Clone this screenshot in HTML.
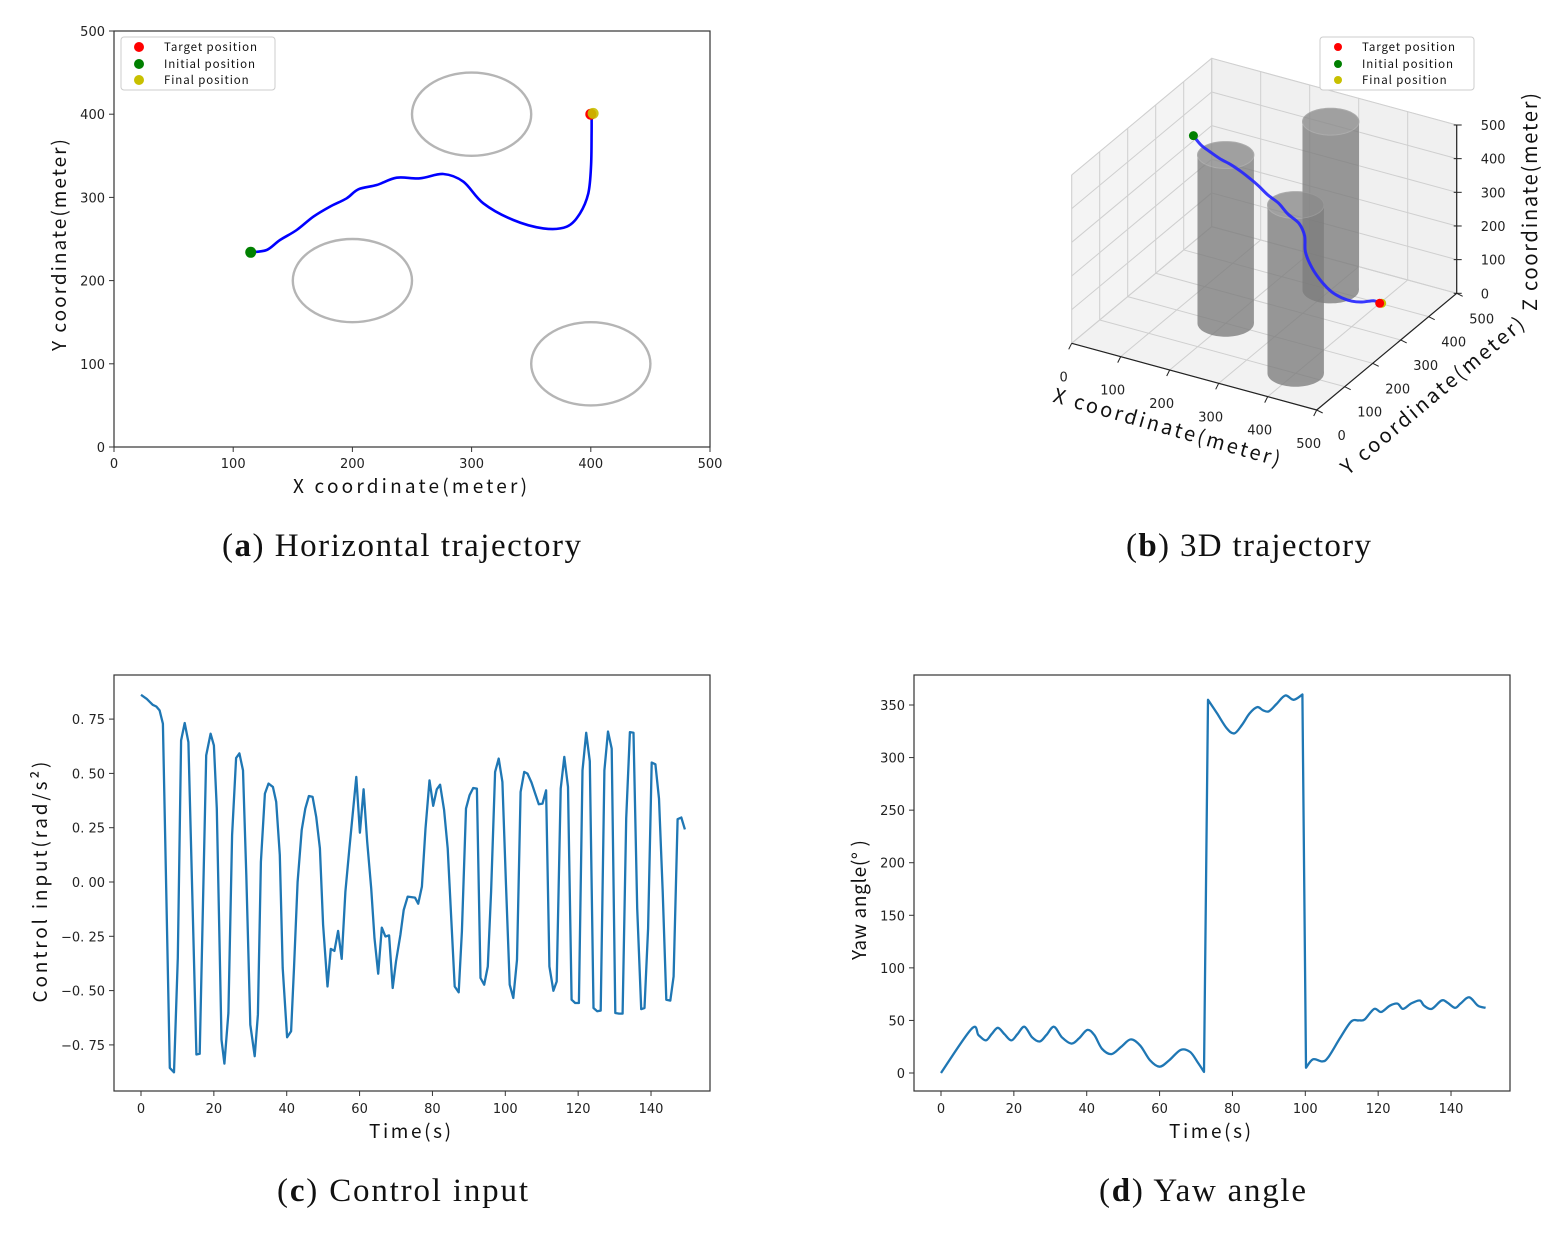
<!DOCTYPE html>
<html><head><meta charset="utf-8">
<style>
html,body{margin:0;padding:0;background:#fff;}
svg{display:block;}
.tick{font-family:"DejaVu Sans","Liberation Sans",sans-serif;font-size:13px;fill:#222;}
.cjk{font-family:"WenQuanYi Zen Hei","Noto Sans CJK SC",sans-serif;fill:#111;}
.cap{font-family:"Liberation Serif",serif;font-size:33px;fill:#111;}
</style></head>
<body>
<svg id="root" width="1560" height="1234" viewBox="0 0 1560 1234" xmlns="http://www.w3.org/2000/svg">
<text class="cap" x="222" y="556" textLength="359">(<tspan font-weight="bold">a</tspan>)  Horizontal trajectory</text>
<text class="cap" x="1126" y="556" textLength="245">(<tspan font-weight="bold">b</tspan>)  3D trajectory</text>
<text class="cap" x="277" y="1201" textLength="251">(<tspan font-weight="bold">c</tspan>)  Control input</text>
<text class="cap" x="1099" y="1201" textLength="207">(<tspan font-weight="bold">d</tspan>)  Yaw angle</text>

<g id="pa"></g>
<g id="pb"></g>
<g id="pc"></g>
<g id="pd"></g>

<text class="cjk" x="410" y="493" font-size="19" text-anchor="middle" textLength="234">X coordinate(meter)</text>
<text class="cjk" transform="translate(66,245) rotate(-90)" font-size="19" text-anchor="middle" textLength="212">Y coordinate(meter)</text>
<text class="cjk" x="410" y="1138" font-size="19" text-anchor="middle" textLength="82">Time(s)</text>
<text class="cjk" transform="translate(47,882) rotate(-90)" font-size="19" text-anchor="middle" textLength="241">Control input(rad/s²)</text>
<text class="cjk" x="1210" y="1138" font-size="19" text-anchor="middle" textLength="82">Time(s)</text>
<text class="cjk" transform="translate(866,900) rotate(-90)" font-size="19" text-anchor="middle" textLength="120">Yaw angle(° )</text>
<text class="cjk" transform="translate(1165,434) rotate(16)" font-size="20" text-anchor="middle" textLength="235">X coordinate(meter)</text>
<text class="cjk" transform="translate(1437,401) rotate(-40)" font-size="20" text-anchor="middle" textLength="232">Y coordinate(meter)</text>
<text class="cjk" transform="translate(1537,202) rotate(-90)" font-size="20" text-anchor="middle" textLength="218">Z coordinate(meter)</text>
</svg>

<script>
const pathX = [114.7,128.1,139.3,153.3,167.2,181.2,195.2,205,220.4,237.2,256.7,276.3,293.1,309.8,335,360.2,379.8,390.9,397.9,400.2,400.7,400.7];
const pathY = [234,236.8,248.8,260.8,276.8,288.9,298.9,309.7,314.9,323.7,322.9,328.1,318.9,292.9,272.8,262.8,264.8,280.8,304.8,336.9,377,401];
const obsX = [300,200,400];
const obsY = [400,200,100];
const obsR = [50,50,50];
const xyTicks = [0,100,200,300,400,500];
const zTicks = [0,100,200,300,400,500];

const ctrlT = [0,1.6,3.2,4.2,5.1,6,7.9,9.05,10.1,11,12,13,15.2,16.1,16.9,17.9,19.1,20,20.8,22.1,22.9,24,25,26.1,27,28,28.9,30,31.2,32.1,32.9,34,35,36.2,37.1,38.1,38.9,40.1,41.2,42,43,44.1,45.1,46.1,47.1,48.1,49.1,50,51.2,52.1,53.1,54.1,55.1,56.1,57.2,59.1,60.1,61.1,62.1,63.2,64.1,65.1,66.1,67.1,68.1,69.1,70,71.2,72.1,73.2,75.2,76.1,77.1,78.1,79.2,80.2,81.2,82.1,83.2,84.2,85.2,86.1,87.2,88.1,89.2,90.2,91.2,92.2,93.2,94.2,95.2,96.1,97.2,98.2,99.2,100.2,101.2,102.2,103.2,104.2,105.2,106.1,107.2,108.2,109.2,110.2,111.2,112.1,113.2,114.1,115.2,116.2,117.2,118.2,119.2,120.2,121.2,122.2,123.2,124.2,125.2,126.2,127.2,128.2,129.2,130.2,131.2,132.2,133.2,134.2,135.2,136.2,137.3,138.2,139.2,140.2,141.2,142.2,143.2,144.2,145.3,146.2,147.3,148.3,149.3];
const ctrlU = [0.862,0.843,0.816,0.808,0.79,0.729,-0.856,-0.876,-0.35,0.652,0.732,0.644,-0.794,-0.791,-0.18,0.583,0.683,0.629,0.338,-0.726,-0.836,-0.603,0.216,0.571,0.592,0.514,0.032,-0.657,-0.802,-0.611,0.093,0.407,0.453,0.438,0.369,0.124,-0.396,-0.715,-0.687,-0.396,0.0,0.239,0.338,0.396,0.392,0.3,0.155,-0.197,-0.481,-0.308,-0.317,-0.225,-0.354,-0.044,0.155,0.484,0.227,0.427,0.185,-0.029,-0.259,-0.422,-0.21,-0.251,-0.246,-0.488,-0.366,-0.243,-0.129,-0.067,-0.072,-0.1,-0.021,0.246,0.468,0.351,0.427,0.448,0.331,0.155,-0.182,-0.481,-0.508,-0.228,0.338,0.4,0.433,0.43,-0.442,-0.473,-0.389,-0.044,0.507,0.568,0.461,-0.014,-0.473,-0.534,-0.358,0.415,0.507,0.499,0.458,0.407,0.358,0.361,0.422,-0.389,-0.501,-0.458,0.43,0.576,0.438,-0.542,-0.557,-0.557,0.514,0.687,0.556,-0.58,-0.595,-0.592,0.514,0.693,0.614,-0.603,-0.606,-0.606,0.292,0.69,0.687,-0.121,-0.585,-0.58,-0.213,0.55,0.542,0.384,-0.044,-0.542,-0.546,-0.435,0.289,0.297,0.242];
const ctrlYTicks = [0.75,0.5,0.25,0,-0.25,-0.5,-0.75];
const ctrlYLabels = ["0. 75","0. 50","0. 25","0. 00","\u22120. 25","\u22120. 50","\u22120. 75"];

const yawT = [0,8.4,10.3,12.3,13.9,15.6,17.4,19.3,21,22.9,25,27.1,28.9,31,33.2,35.8,37.9,40.2,42.1,44.2,46.8,49.5,52.1,54.7,57.4,60,62.6,65.8,68.4,70.5,72.2,73.3,75.8,78.4,80.5,82.6,84.7,86.8,88.4,90,92.1,94.5,96.8,99.2,100.2,102.1,104.7,106.3,109.5,112.6,114.7,116.3,118.9,120.8,123.2,125.3,126.8,129,131.4,132.6,134.7,137.4,139,141.1,142.6,145,147.4,149.5];
const yawV = [0,42,36,31,37,43,37,31,37,44,34,30,36,44,34,28,33,41,36,23,18,25,32,26,12,6,12,22,20,10,1,355,342,328,323,331,342,348,345,344,351,359,355,360,5,13,11,15,33,49,50,51,61,58,64,66,61,66,69,64,61,69,67,62,66,72,64,62];
const yawYTicks = [0,50,100,150,200,250,300,350];
const timeTicks = [0,20,40,60,80,100,120,140];

const NS = "http://www.w3.org/2000/svg";
function mk(tag, attrs, parent){
  const e = document.createElementNS(NS, tag);
  for (const k in attrs) e.setAttribute(k, attrs[k]);
  parent.appendChild(e);
  return e;
}
function txt(parent, x, y, s, cls, anchor, extra){
  const t = mk('text', Object.assign({x:x, y:y, 'class':cls, 'text-anchor':anchor||'middle'}, extra||{}), parent);
  t.textContent = s;
  return t;
}
// Catmull-Rom smooth path; breaks (no smoothing) where jump flagged
function smooth(p, brk){
  let d = 'M'+p[0][0].toFixed(1)+' '+p[0][1].toFixed(1);
  for(let i=0;i<p.length-1;i++){
    if(brk && brk(i)){ d+=' L'+p[i+1][0].toFixed(1)+' '+p[i+1][1].toFixed(1); continue; }
    const p0=(i>0 && !(brk&&brk(i-1)))?p[i-1]:p[i], p1=p[i], p2=p[i+1], p3=(i+2<p.length && !(brk&&brk(i+1)))?p[i+2]:p2;
    const c1=[p1[0]+(p2[0]-p0[0])/6, p1[1]+(p2[1]-p0[1])/6];
    const c2=[p2[0]-(p3[0]-p1[0])/6, p2[1]-(p3[1]-p1[1])/6];
    d+=' C'+c1[0].toFixed(1)+' '+c1[1].toFixed(1)+' '+c2[0].toFixed(1)+' '+c2[1].toFixed(1)+' '+p2[0].toFixed(1)+' '+p2[1].toFixed(1);
  }
  return d;
}

(function(){
  const g = document.getElementById('pa');
  const L=114,R=710,T=31,B=447;
  const sx = v => L + (v/500)*(R-L);
  const sy = v => B - (v/500)*(B-T);
  const frame = mk('rect',{x:L,y:T,width:R-L,height:B-T,fill:'#fff',stroke:'#333','stroke-width':1.2},g);
  
  
  xyTicks.forEach(v=>{
    const tx = mk('line',{x1:sx(v),x2:sx(v),y1:B,y2:B+5,stroke:'#333'},g);
    
    
    const lx = txt(g,sx(v),B+21,String(v),'tick');
    
    
    const ty = mk('line',{x1:L-5,x2:L,y1:sy(v),y2:sy(v),stroke:'#333'},g);
    
    
    const ly = txt(g,L-9,sy(v)+5,String(v),'tick','end');
    
    
  });
  obsX.forEach((cx,i)=>{
    const el = mk('ellipse',{cx:sx(cx),cy:sy(obsY[i]),rx:obsR[i]/500*(R-L),ry:obsR[i]/500*(B-T),fill:'none',stroke:'#b5b5b5','stroke-width':2.4},g);
    
    
  });
  const d = smooth(pathX.map((x,i)=>[sx(x),sy(pathY[i])]));
  const p = mk('path',{d:d,fill:'none',stroke:'#0000ff','stroke-width':2.6,'stroke-linejoin':'round'},g);
  
  
  const n = pathX.length-1;
  const m1 = mk('circle',{cx:sx(pathX[0]),cy:sy(pathY[0]),r:5.5,fill:'#008000'},g);
  
  
  const m2 = mk('circle',{cx:sx(400),cy:sy(400),r:5.5,fill:'#ff0000'},g);
  
  
  const m3 = mk('circle',{cx:sx(pathX[n])+1.5,cy:sy(pathY[n]),r:5.5,fill:'#c8c000',opacity:0.9},g);
  
  
  const lg = mk('g',{},g);
  
  
  mk('rect',{x:121,y:37,width:154,height:53,rx:3,fill:'#fff',stroke:'#ccc'},lg);
  [['#ff0000','Target position',47],['#008000','Initial position',64],['#c8c000','Final position',80]].forEach(e=>{
    const c = mk('circle',{cx:139,cy:e[2],r:5,fill:e[0]},lg);
    
    
    const t = txt(lg,164,e[2]+4,e[1],'cjk','start',{'font-size':11.5,'letter-spacing':'0.9'});
    
    
  });
})();

(function(){
  const g = document.getElementById('pb');
  const O = [1071.7,343.3];
  const P = (X,Y,Z)=>[O[0]+X/500*245+Y/500*140, O[1]+X/500*66.7-Y/500*116.7-Z/500*168.3];
  const pts = a=>a.map(p=>p[0].toFixed(1)+','+p[1].toFixed(1)).join(' ');
  const floor = mk('polygon',{points:pts([P(0,0,0),P(500,0,0),P(500,500,0),P(0,500,0)]),fill:'#f2f2f2',stroke:'#e6e6e6'},g);
  
  
  const wl = mk('polygon',{points:pts([P(0,0,0),P(0,500,0),P(0,500,500),P(0,0,500)]),fill:'#f4f4f4',stroke:'#e6e6e6'},g);
  
  
  const wr = mk('polygon',{points:pts([P(0,500,0),P(500,500,0),P(500,500,500),P(0,500,500)]),fill:'#f0f0f0',stroke:'#e6e6e6'},g);
  
  
  const gl = (a,b)=>{const l=mk('line',{x1:a[0],y1:a[1],x2:b[0],y2:b[1],stroke:'#cfcfcf','stroke-width':1},g);
    
    };
  xyTicks.forEach(v=>{
    gl(P(v,0,0),P(v,500,0)); gl(P(0,v,0),P(500,v,0));
    gl(P(0,v,0),P(0,v,500)); gl(P(v,500,0),P(v,500,500));
  });
  zTicks.forEach(z=>{ gl(P(0,0,z),P(0,500,z)); gl(P(0,500,z),P(500,500,z)); });
  const ax = (a,b,name)=>{const l=mk('line',{x1:a[0],y1:a[1],x2:b[0],y2:b[1],stroke:'#222','stroke-width':1.2},g);
    
    };
  ax(P(0,0,0),P(500,0,0),'x-axis-3d');
  ax(P(500,0,0),P(500,500,0),'y-axis-3d');
  ax(P(500,500,0),P(500,500,500),'z-axis-3d');
  xyTicks.forEach((v,i)=>{
    const a=P(v,0,0);
    const t=mk('line',{x1:a[0],y1:a[1],x2:a[0]-3,y2:a[1]+6,stroke:'#222'},g);
    
    
    const lb=txt(g,a[0]-8,a[1]+38,String(v),'tick','middle');
    
    
    const b=P(500,v,0);
    const t2=mk('line',{x1:b[0],y1:b[1],x2:b[0]+6,y2:b[1]+3,stroke:'#222'},g);
    
    
    const lb2=txt(g,b[0]+25,b[1]+30,String(v),'tick','middle');
    
    
  });
  zTicks.forEach(z=>{
    const c=P(500,500,z);
    const t=mk('line',{x1:c[0]-3,y1:c[1],x2:c[0]+5,y2:c[1],stroke:'#222'},g);
    
    
    const lb=txt(g,c[0]+24,c[1]+5,String(z),'tick','start');
    
    
  });
  const order = obsX.map((x,i)=>i).sort((a,b)=>(obsX[a]-obsY[a])-(obsX[b]-obsY[b]));
  order.forEach(i=>{
    const cg = mk('g',{opacity:0.78},g);
    
    
    const bot=[],top=[];
    for(let k=0;k<72;k++){const th=k/72*2*Math.PI;
      bot.push(P(obsX[i]+obsR[i]*Math.cos(th),obsY[i]+obsR[i]*Math.sin(th),0));
      top.push(P(obsX[i]+obsR[i]*Math.cos(th),obsY[i]+obsR[i]*Math.sin(th),500));}
    let xmin=Infinity,xmax=-Infinity;bot.forEach(p=>{xmin=Math.min(xmin,p[0]);xmax=Math.max(xmax,p[0]);});
    const cb=P(obsX[i],obsY[i],0), ct=P(obsX[i],obsY[i],500);
    mk('polygon',{points:pts(bot),fill:'#7d7d7d'},cg);
    mk('rect',{x:xmin,y:ct[1],width:xmax-xmin,height:cb[1]-ct[1],fill:'#7d7d7d'},cg);
    mk('polygon',{points:pts(top),fill:'#8a8a8a',stroke:'#999','stroke-width':1},cg);
  });
  const n=pathX.length-1;
  const tp = pathX.map((x,i)=>P(x,pathY[i],500*(1-i/n)));
  const pl = mk('path',{d:smooth(tp),fill:'none',stroke:'#2222ff','stroke-width':3,'stroke-linejoin':'round',opacity:0.9},g);
  
  
  const s=tp[0], e=P(400,400,0);
  const m1=mk('circle',{cx:s[0],cy:s[1],r:4.5,fill:'#008000'},g);
  
  
  const m3=mk('circle',{cx:e[0]+2,cy:e[1],r:4.5,fill:'#c8c000'},g);
  
  
  const m2=mk('circle',{cx:e[0],cy:e[1],r:4.5,fill:'#ff0000'},g);
  
  
  const lg = mk('g',{},g);
  
  
  mk('rect',{x:1320,y:37,width:154,height:53,rx:3,fill:'#fff',stroke:'#ccc'},lg);
  [['#ff0000','Target position',47],['#008000','Initial position',64],['#c8c000','Final position',80]].forEach(en=>{
    const c = mk('circle',{cx:1338,cy:en[2],r:4,fill:en[0]},lg);
    
    
    const t = txt(lg,1362,en[2]+4,en[1],'cjk','start',{'font-size':11.5,'letter-spacing':'0.9'});
    
    
  });
})();

function tsChart(id, L, T, R, B, x0px, xPer20, yMap, yTicks, yLabels, xs, ys, suffix, smoothIt){
  const g = document.getElementById(id);
  const sx = v => x0px + v/20*xPer20;
  const frame = mk('rect',{x:L,y:T,width:R-L,height:B-T,fill:'#fff',stroke:'#333','stroke-width':1.2},g);
  
  
  timeTicks.forEach(v=>{
    const t = mk('line',{x1:sx(v),x2:sx(v),y1:B,y2:B+5,stroke:'#333'},g);
    
    
    const l = txt(g,sx(v),B+22,String(v),'tick');
    
    
  });
  yTicks.forEach((v,i)=>{
    const t = mk('line',{x1:L-5,x2:L,y1:yMap(v),y2:yMap(v),stroke:'#333'},g);
    
    
    const l = txt(g,L-9,yMap(v)+5,yLabels[i],'tick','end');
    
    
  });
  const pts = xs.map((x,i)=>[sx(x),yMap(ys[i])]);
  let d;
  if(smoothIt){ d = smooth(pts, i=>Math.abs(ys[i+1]-ys[i])>150 || (i>0&&Math.abs(ys[i]-ys[i-1])>150 && false)); }
  else d = pts.map((p,i)=>(i?'L':'M')+p[0].toFixed(1)+' '+p[1].toFixed(1)).join(' ');
  const p = mk('path',{d:d,fill:'none',stroke:'#1f77b4','stroke-width':2.3,'stroke-linejoin':'round'},g);
  
  
}
tsChart('pc',114,675,710,1091,141,72.86,v=>882-v/0.25*54.3,ctrlYTicks,ctrlYLabels,ctrlT,ctrlU,'c',false);
tsChart('pd',914,675,1510,1091,941,72.86,v=>1073-v*1.0514,yawYTicks,yawYTicks.map(String),yawT,yawV,'d',true);
</script>
</body></html>
